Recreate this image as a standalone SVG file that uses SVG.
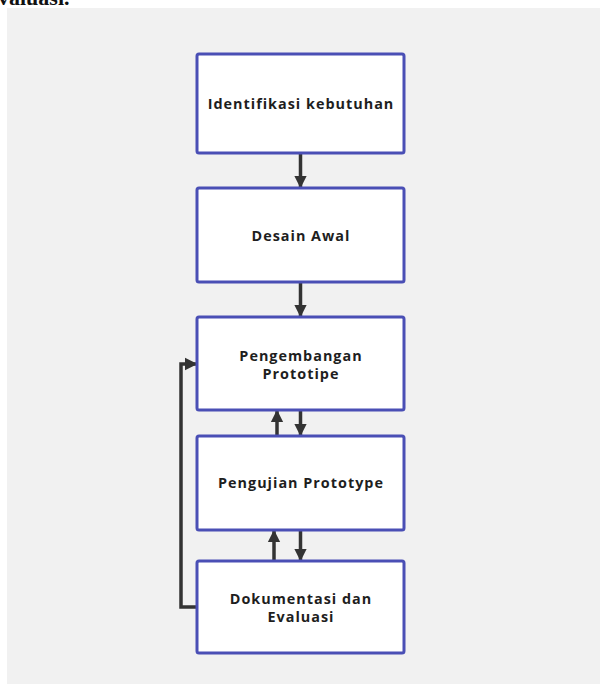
<svg xmlns="http://www.w3.org/2000/svg" width="600" height="684" viewBox="0 0 600 684">
<defs>
<style>
.box{fill:#ffffff;stroke:#4a4fb5;stroke-width:3}
.lbl{font-family:"Open Sans","Noto Sans",sans-serif;font-weight:bold;font-size:14.4px;letter-spacing:1px;fill:#1e1e1e;text-anchor:middle}
.con{fill:none;stroke:#333333;stroke-width:3.5}
</style>
<marker id="ah" viewBox="0 0 10 10" refX="9" refY="5" markerWidth="3.6" markerHeight="4.2" orient="auto" markerUnits="strokeWidth">
<path d="M0,0 L10,5 L0,10 Z" fill="#333333"/>
</marker>
</defs>
<rect x="0" y="0" width="600" height="684" fill="#ffffff"/>
<rect x="7" y="8" width="593" height="676" fill="#f1f1f1"/>
<text x="-2" y="5" font-family="Liberation Serif,serif" font-weight="bold" font-size="22" fill="#111111">valuasi.</text>
<g id="connectors">
<line class="con" x1="300.5" y1="153" x2="300.5" y2="187" marker-end="url(#ah)"/>
<line class="con" x1="300.5" y1="282" x2="300.5" y2="316" marker-end="url(#ah)"/>
<line class="con" x1="300.5" y1="410" x2="300.5" y2="435" marker-end="url(#ah)"/>
<line class="con" x1="277" y1="436" x2="277" y2="411" marker-end="url(#ah)"/>
<line class="con" x1="300.5" y1="530" x2="300.5" y2="560" marker-end="url(#ah)"/>
<line class="con" x1="274" y1="561" x2="274" y2="531" marker-end="url(#ah)"/>
<polyline class="con" points="197,607 181,607 181,364 196,364" marker-end="url(#ah)"/>
</g>
<g id="n1"><rect class="box" x="197" y="54" width="207" height="99" rx="2"/><text class="lbl" x="301" y="109">Identifikasi kebutuhan</text></g>
<g id="n2"><rect class="box" x="197" y="188" width="207" height="94" rx="2"/><text class="lbl" x="301" y="241">Desain Awal</text></g>
<g id="n3"><rect class="box" x="197" y="317" width="207" height="93" rx="2"/><text class="lbl" x="301" y="361"><tspan x="301">Pengembangan</tspan><tspan x="301" dy="18">Prototipe</tspan></text></g>
<g id="n4"><rect class="box" x="197" y="436" width="207" height="94" rx="2"/><text class="lbl" x="301" y="488">Pengujian Prototype</text></g>
<g id="n5"><rect class="box" x="197" y="561" width="207" height="92" rx="2"/><text class="lbl" x="301" y="604"><tspan x="301">Dokumentasi dan</tspan><tspan x="301" dy="18">Evaluasi</tspan></text></g>
</svg>
